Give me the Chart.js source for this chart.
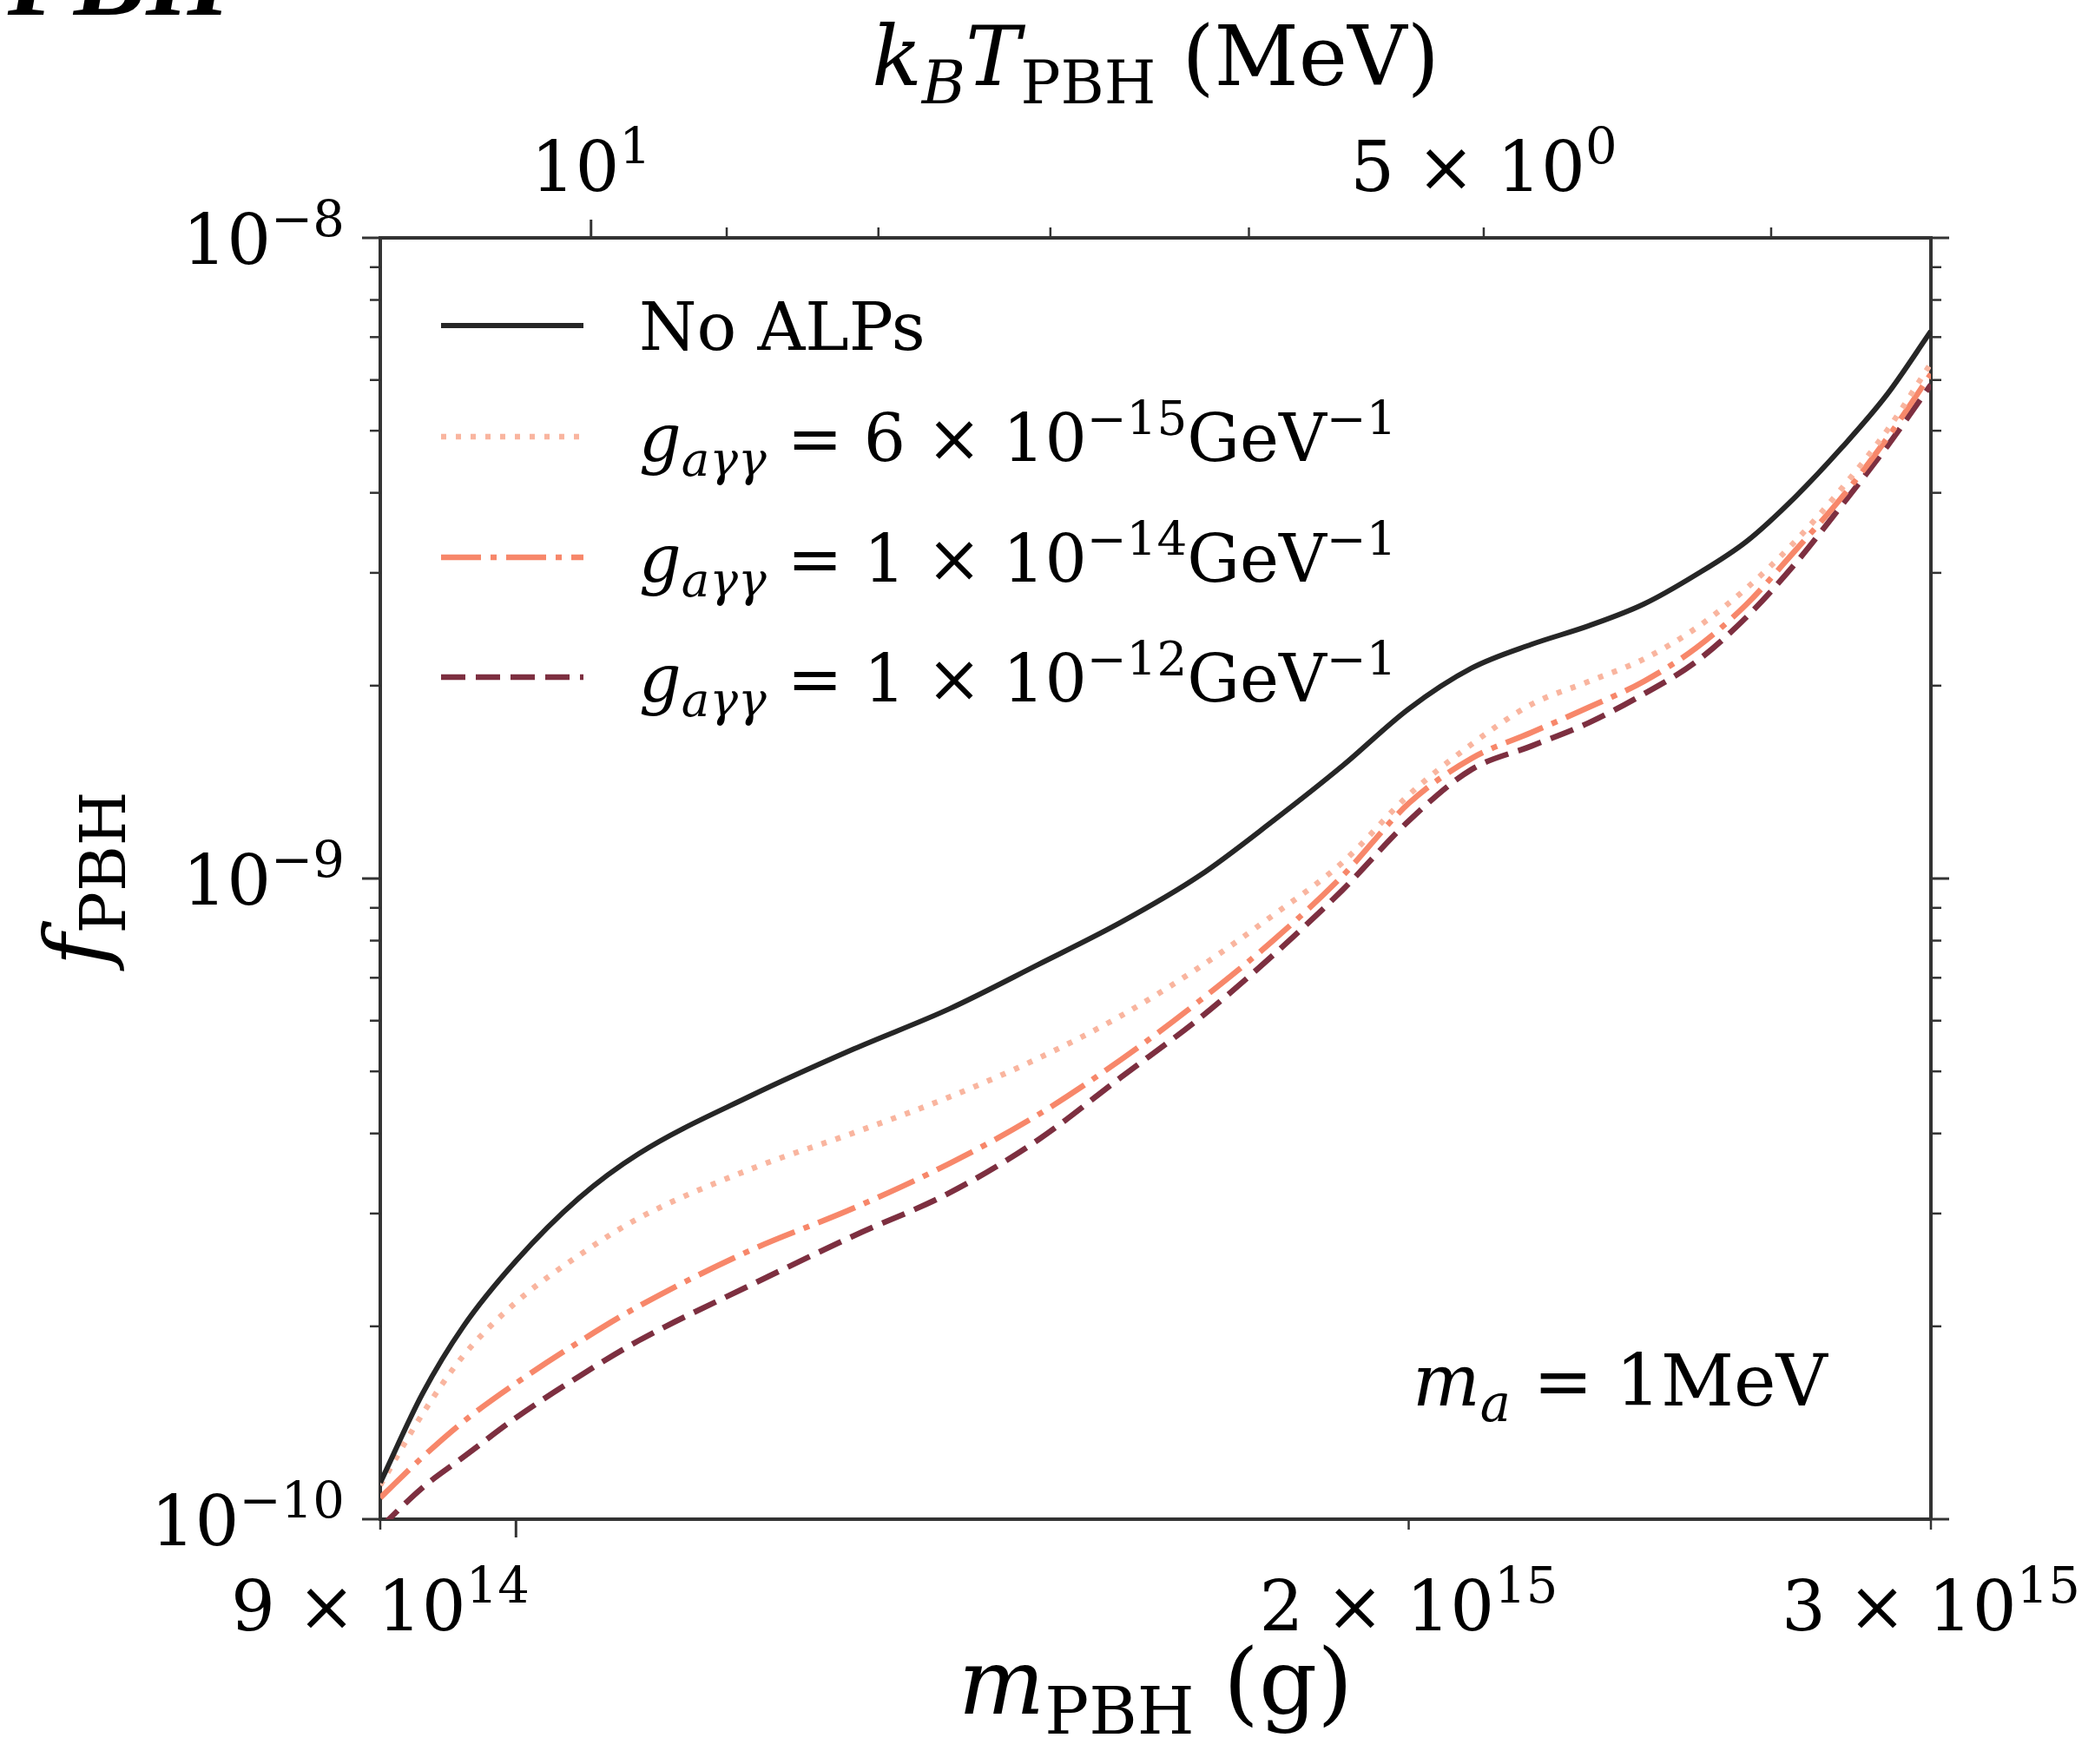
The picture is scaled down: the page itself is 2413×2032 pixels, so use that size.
<!DOCTYPE html>
<html>
<head>
<meta charset="utf-8">
<script src="https://cdn.jsdelivr.net/npm/chart.js@4/dist/chart.umd.min.js"></script>
<style>
  html, body { margin: 0; padding: 0; background: #fff; }
  canvas { display: block; }
</style>
</head>
<body>
<canvas id="myChart" width="2413" height="2032"></canvas>
<script>
// PBH mass grid (g) and f_PBH bounds
let massG = [9.0e14, 9.3e14, 9.6e14, 1.0e15, 1.05e15, 1.1e15, 1.2e15, 1.3e15, 1.4e15, 1.5e15,
  1.6e15, 1.7e15, 1.8e15, 1.9e15, 2.0e15, 2.1e15, 2.2e15, 2.3e15, 2.4e15, 2.5e15,
  2.6e15, 2.7e15, 2.8e15, 2.9e15, 3.0e15];
let fNoAlps = [1.14e-10, 1.57e-10, 2.00e-10, 2.53e-10, 3.17e-10, 3.72e-10, 4.58e-10, 5.42e-10, 6.26e-10, 7.34e-10,
  8.55e-10, 1.01e-9, 1.23e-9, 1.50e-9, 1.84e-9, 2.13e-9, 2.32e-9, 2.48e-9, 2.68e-9, 2.98e-9,
  3.36e-9, 3.94e-9, 4.71e-9, 5.70e-9, 7.15e-9];
let fG6e15 = [1.13e-10, 1.46e-10, 1.80e-10, 2.18e-10, 2.58e-10, 2.95e-10, 3.52e-10, 4.01e-10, 4.56e-10, 5.24e-10,
  6.11e-10, 7.27e-10, 8.76e-10, 1.06e-9, 1.35e-9, 1.62e-9, 1.87e-9, 2.03e-9, 2.20e-9, 2.46e-9,
  2.84e-9, 3.36e-9, 4.07e-9, 5.01e-9, 6.37e-9];
let fG1e14 = [1.08e-10, 1.25e-10, 1.42e-10, 1.63e-10, 1.89e-10, 2.15e-10, 2.63e-10, 3.06e-10, 3.59e-10, 4.28e-10,
  5.22e-10, 6.44e-10, 8.00e-10, 1.01e-9, 1.31e-9, 1.54e-9, 1.69e-9, 1.85e-9, 2.03e-9, 2.29e-9,
  2.68e-9, 3.25e-9, 3.94e-9, 4.87e-9, 6.13e-9];
let fG1e12 = [0.97e-10, 1.12e-10, 1.25e-10, 1.44e-10, 1.67e-10, 1.90e-10, 2.32e-10, 2.77e-10, 3.23e-10, 3.91e-10,
  4.90e-10, 6.05e-10, 7.59e-10, 9.60e-10, 1.23e-9, 1.48e-9, 1.61e-9, 1.75e-9, 1.94e-9, 2.18e-9,
  2.56e-9, 3.10e-9, 3.83e-9, 4.73e-9, 5.90e-9];

// k_B T = tempConst / M  (MeV, with M in g)
let tempConst = 1.06e16;

// tick labels: [mantissa, exponent]
let yTickVals = [1e-10, 1e-9, 1e-8];
let yTickLabels = [['10', '\u221210'], ['10', '\u22129'], ['10', '\u22128']];
let xTickVals = [9e14, 2e15, 3e15];
let xTickLabels = [['9 \u00d7 10', '14'], ['2 \u00d7 10', '15'], ['3 \u00d7 10', '15']];
let tTickVals = [10, 5];
let tTickLabels = [['10', '1'], ['5 \u00d7 10', '0']];

const SERIF = '"DejaVu Serif", serif';

function setFont(ctx, size, italic) {
  ctx.font = (italic ? 'italic ' : '') + size + 'px ' + SERIF;
}

// parts: [text, flags]  i = italic, u = superscript, d = subscript
function richWidth(ctx, parts, fs) {
  let w = 0;
  parts.forEach(p => {
    let f = p[1] || '';
    setFont(ctx, (f.includes('u') || f.includes('d')) ? fs * 0.72 : fs, f.includes('i'));
    w += ctx.measureText(p[0]).width;
  });
  return w;
}

function drawRich(ctx, parts, x, y, fs, align) {
  let w = richWidth(ctx, parts, fs);
  let cx = align === 'center' ? x - w / 2 : (align === 'right' ? x - w : x);
  ctx.save();
  ctx.textAlign = 'left';
  ctx.textBaseline = 'alphabetic';
  ctx.fillStyle = '#000';
  parts.forEach(p => {
    let f = p[1] || '';
    let size = fs, dy = 0;
    if (f.includes('u')) { size = fs * 0.72; dy = -0.4 * fs; }
    if (f.includes('d')) { size = fs * 0.72; dy = 0.22 * fs; }
    setFont(ctx, size, f.includes('i'));
    ctx.fillText(p[0], cx, y + dy);
    cx += ctx.measureText(p[0]).width;
  });
  ctx.restore();
}

let legendRows = [
  [['No ALPs', '']],
  [['g', 'i'], ['a\u03b3\u03b3', 'id'], [' = 6 \u00d7 10', ''], ['\u221215', 'u'], ['GeV', ''], ['\u22121', 'u']],
  [['g', 'i'], ['a\u03b3\u03b3', 'id'], [' = 1 \u00d7 10', ''], ['\u221214', 'u'], ['GeV', ''], ['\u22121', 'u']],
  [['g', 'i'], ['a\u03b3\u03b3', 'id'], [' = 1 \u00d7 10', ''], ['\u221212', 'u'], ['GeV', ''], ['\u22121', 'u']]
];

function points(ys) {
  return massG.map((m, i) => ({x: m, y: ys[i]}));
}

const frame = {
  id: 'frame',
  afterDraw(chart) {
    const ctx = chart.ctx;
    const a = chart.chartArea;
    const sc = chart.scales;
    ctx.save();
    ctx.strokeStyle = '#333';
    ctx.lineCap = 'butt';
    function tick(x, y, dx, dy, w) {
      ctx.lineWidth = w;
      ctx.beginPath();
      ctx.moveTo(x, y);
      ctx.lineTo(x + dx, y + dy);
      ctx.stroke();
    }
    // y ticks, both sides
    for (let e = -10; e <= -8; e++) {
      let p = sc.y.getPixelForValue(Math.pow(10, e));
      tick(a.left, p, -21, 0, 3);
      tick(a.right, p, 21, 0, 3);
      if (e < -8) {
        for (let k = 2; k <= 9; k++) {
          let q = sc.y.getPixelForValue(k * Math.pow(10, e));
          tick(a.left, q, -12, 0, 2.5);
          tick(a.right, q, 12, 0, 2.5);
        }
      }
    }
    // bottom mass ticks
    tick(sc.x.getPixelForValue(1e15), a.bottom, 0, 21, 3);
    [9e14, 2e15, 3e15].forEach(v => tick(sc.x.getPixelForValue(v), a.bottom, 0, 12, 2.5));
    // top temperature ticks
    tick(sc.xT.getPixelForValue(10), a.top, 0, -21, 3);
    [4, 5, 6, 7, 8, 9].forEach(v => tick(sc.xT.getPixelForValue(v), a.top, 0, -12, 2.5));

    // tick labels
    yTickVals.forEach((v, i) => {
      drawRich(ctx, [[yTickLabels[i][0], ''], [yTickLabels[i][1], 'u']], 397, sc.y.getPixelForValue(v) + 30, 80, 'right');
    });
    xTickVals.forEach((v, i) => {
      drawRich(ctx, [[xTickLabels[i][0], ''], [xTickLabels[i][1], 'u']], sc.x.getPixelForValue(v), 1878, 80, 'center');
    });
    tTickVals.forEach((v, i) => {
      drawRich(ctx, [[tTickLabels[i][0], ''], [tTickLabels[i][1], 'u']], sc.xT.getPixelForValue(v), 220, 80, 'center');
    });

    // axis titles
    let cxm = (a.left + a.right) / 2;
    drawRich(ctx, [['k', 'i'], ['B', 'id'], ['T', 'i'], ['PBH', 'd'], [' (MeV)', '']], cxm, 98, 95, 'center');
    drawRich(ctx, [['m', 'i'], ['PBH', 'd'], [' (g)', '']], cxm, 1974, 105, 'center');
    ctx.save();
    ctx.translate(122, (a.top + a.bottom) / 2);
    ctx.rotate(-Math.PI / 2);
    drawRich(ctx, [['f', 'i'], ['PBH', 'd']], 0, 0, 100, 'center');
    ctx.restore();

    // annotation
    drawRich(ctx, [['m', 'i'], ['a', 'id'], [' = 1MeV', '']], 1627, 1619, 82, 'left');

    // legend (inside axes, upper left)
    let rowY = [375, 503, 642, 780];
    chart.data.datasets.forEach((ds, i) => {
      ctx.save();
      ctx.strokeStyle = ds.borderColor;
      ctx.lineWidth = ds.borderWidth;
      ctx.setLineDash(ds.borderDash || []);
      ctx.beginPath();
      ctx.moveTo(508, rowY[i]);
      ctx.lineTo(672, rowY[i]);
      ctx.stroke();
      ctx.restore();
      drawRich(ctx, legendRows[i], 736, rowY[i] + 28, 76, 'left');
    });

    // clipped caption fragment at the very top
    ctx.fillStyle = '#000';
    ctx.font = 'bold italic 125px "Liberation Serif", serif';
    ctx.textBaseline = 'alphabetic';
    ctx.textAlign = 'right';
    ctx.fillText('P', 85, 17);
    ctx.textAlign = 'left';
    ctx.fillText('BH', 85, 17);
    ctx.restore();
  }
};

let myChart = new Chart(document.getElementById('myChart').getContext('2d'), {
  type: 'line',
  data: {
    datasets: [{
      label: 'No ALPs',
      data: points(fNoAlps),
      borderColor: '#262626',
      borderWidth: 6
    }, {
      label: 'g = 6e-15 GeV^-1',
      data: points(fG6e15),
      borderColor: '#f9b59f',
      borderWidth: 6.5,
      borderDash: [6, 11]
    }, {
      label: 'g = 1e-14 GeV^-1',
      data: points(fG1e14),
      borderColor: '#f7876a',
      borderWidth: 6.5,
      borderDash: [46, 11, 7, 11]
    }, {
      label: 'g = 1e-12 GeV^-1',
      data: points(fG1e12),
      borderColor: '#7d2f40',
      borderWidth: 6.5,
      borderDash: [28, 12]
    }]
  },
  options: {
    responsive: false,
    animation: false,
    layout: { padding: 0 },
    elements: {
      point: { radius: 0 },
      line: { cubicInterpolationMode: 'monotone', fill: false }
    },
    plugins: {
      legend: { display: false },
      tooltip: { enabled: false }
    },
    scales: {
      x: {
        type: 'logarithmic', position: 'bottom', min: 9e14, max: 3e15,
        grid: { display: false }, ticks: { display: false },
        border: { color: '#333', width: 4 },
        afterFit: s => { s.height = 282; }
      },
      xT: {
        type: 'logarithmic', position: 'top', reverse: true,
        min: tempConst / 3e15, max: tempConst / 9e14,
        grid: { display: false }, ticks: { display: false },
        border: { color: '#333', width: 4 },
        afterFit: s => { s.height = 274; }
      },
      y: {
        type: 'logarithmic', position: 'left', min: 1e-10, max: 1e-8,
        grid: { display: false }, ticks: { display: false },
        border: { color: '#333', width: 4 },
        afterFit: s => { s.width = 438; }
      },
      y2: {
        type: 'logarithmic', position: 'right', min: 1e-10, max: 1e-8,
        grid: { display: false }, ticks: { display: false },
        border: { color: '#333', width: 4 },
        afterFit: s => { s.width = 189; }
      }
    }
  },
  plugins: [frame]
});
</script>
</body>
</html>
